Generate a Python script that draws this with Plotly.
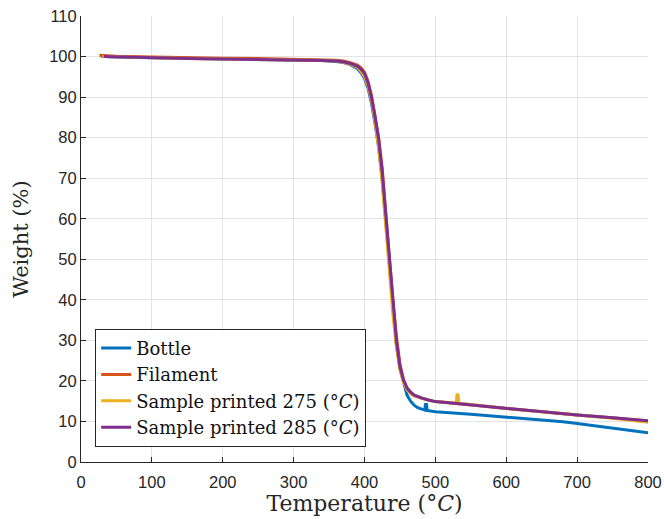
import plotly.graph_objects as go

# Thermogravimetric curves: temperature (°C) vs remaining weight (%)
bottle_T = [28, 50, 100, 150, 200, 250, 300, 340, 360, 370, 380, 390, 395, 400, 405, 410,
            415, 420, 425, 430, 435, 440, 445, 450, 455, 460, 465, 470, 475, 480, 485,
            486, 487.5, 488.5, 500, 550, 600, 650, 680, 700, 750, 800]
bottle_W = [100.1, 99.9, 99.7, 99.5, 99.4, 99.3, 99.2, 99.0, 98.8, 98.5, 98.0, 97.0, 96.0,
            94.6, 92.2, 88.3, 83.3, 77.5, 69.5, 59.5, 48.0, 37.5, 29.0, 23.0, 19.5, 16.5,
            15.0, 14.0, 13.4, 13.0, 12.8, 14.2, 14.2, 12.7, 12.4, 11.8, 11.1, 10.4, 9.9,
            9.5, 8.4, 7.2]

filament_T = [26, 50, 100, 150, 200, 250, 300, 340, 360, 370, 380, 390, 395, 400, 405, 410,
              415, 420, 425, 430, 435, 440, 445, 450, 455, 460, 465, 470, 480, 490, 500,
              530, 560, 600, 650, 700, 750, 800]
filament_W = [100.3, 100.1, 99.9, 99.7, 99.6, 99.5, 99.4, 99.2, 99.1, 98.9, 98.5, 97.9,
              97.2, 96.1, 93.9, 90.3, 85.5, 80.0, 72.5, 62.5, 50.5, 40.0, 31.0, 24.2, 20.3,
              18.3, 17.2, 16.5, 15.8, 15.3, 14.9, 14.4, 13.9, 13.1, 12.4, 11.6, 10.9, 10.1]

s275_T = [30, 50, 100, 150, 200, 250, 300, 340, 360, 370, 380, 390, 395, 400, 405, 410,
          415, 420, 425, 430, 435, 440, 445, 450, 455, 460, 465, 470, 480, 490, 500,
          529.5, 530.5, 532, 533, 560, 600, 650, 700, 750, 800]
s275_W = [100.0, 99.9, 99.7, 99.5, 99.4, 99.3, 99.2, 99.0, 98.9, 98.6, 98.1, 97.3, 96.4,
          95.0, 92.8, 89.0, 83.8, 77.5, 69.0, 58.5, 46.5, 36.5, 28.5, 22.8, 19.6, 17.8,
          16.9, 16.3, 15.7, 15.3, 14.9, 14.5, 16.6, 16.6, 14.5, 14.0, 13.2, 12.4, 11.6,
          10.8, 9.8]

s285_T = [32, 50, 100, 150, 200, 250, 300, 340, 360, 370, 380, 390, 395, 400, 405, 410,
          415, 420, 425, 430, 435, 440, 445, 450, 455, 460, 465, 470, 480, 490, 500,
          530, 560, 600, 650, 700, 750, 800]
s285_W = [100.0, 99.9, 99.7, 99.5, 99.4, 99.3, 99.2, 99.0, 98.9, 98.7, 98.3, 97.6, 96.9,
          95.8, 93.5, 89.8, 85.0, 79.5, 71.5, 61.0, 49.0, 39.0, 30.0, 23.5, 20.2, 18.2,
          17.2, 16.5, 15.8, 15.3, 14.9, 14.4, 13.9, 13.1, 12.4, 11.6, 10.9, 10.2]

series = [
    ("Bottle", bottle_T, bottle_W, "#0072BD"),
    ("Filament", filament_T, filament_W, "#D95319"),
    ("Sample printed 275 (°<i>C</i>)", s275_T, s275_W, "#EDB120"),
    ("Sample printed 285 (°<i>C</i>)", s285_T, s285_W, "#7E2F8E"),
]

x_ticks = list(range(0, 801, 100))
y_ticks = list(range(0, 111, 10))

fig = go.Figure()
for name, t, w, color in series:
    fig.add_trace(go.Scatter(x=t, y=w, mode="lines", name=name,
                             line=dict(color=color, width=3)))

serif = "DejaVu Serif, Liberation Serif, serif"
axis_common = dict(
    automargin=False,
    showgrid=True, gridcolor="#e3e3e3", gridwidth=1,
    zeroline=False, showline=True, linecolor="#262626", linewidth=1,
    ticks="inside", ticklen=5, tickcolor="#262626", tickwidth=1,
    tickfont=dict(family="Liberation Sans, Arial, sans-serif", size=16.5, color="#262626"),
)

fig.update_layout(
    width=664, height=519,
    margin=dict(l=81, r=16, t=16, b=57),
    paper_bgcolor="white", plot_bgcolor="white",
    xaxis=dict(range=[0, 800], tickvals=x_ticks, ticklabelstandoff=5,
               title=dict(text="Temperature (°<i>C</i>)", standoff=4,
                          font=dict(family=serif, size=22, color="#262626")),
               **axis_common),
    yaxis=dict(range=[0, 110], tickvals=y_ticks,
               title=dict(text="Weight (%)", standoff=14,
                          font=dict(family=serif, size=21, color="#262626")),
               **axis_common),
    legend=dict(x=0.025, y=0.034, xanchor="left", yanchor="bottom",
                bgcolor="white", bordercolor="#262626", borderwidth=1,
                font=dict(family=serif, size=18, color="#111111"),
                tracegroupgap=0, itemwidth=30),
    showlegend=True,
)

fig.write_html("out.html")
